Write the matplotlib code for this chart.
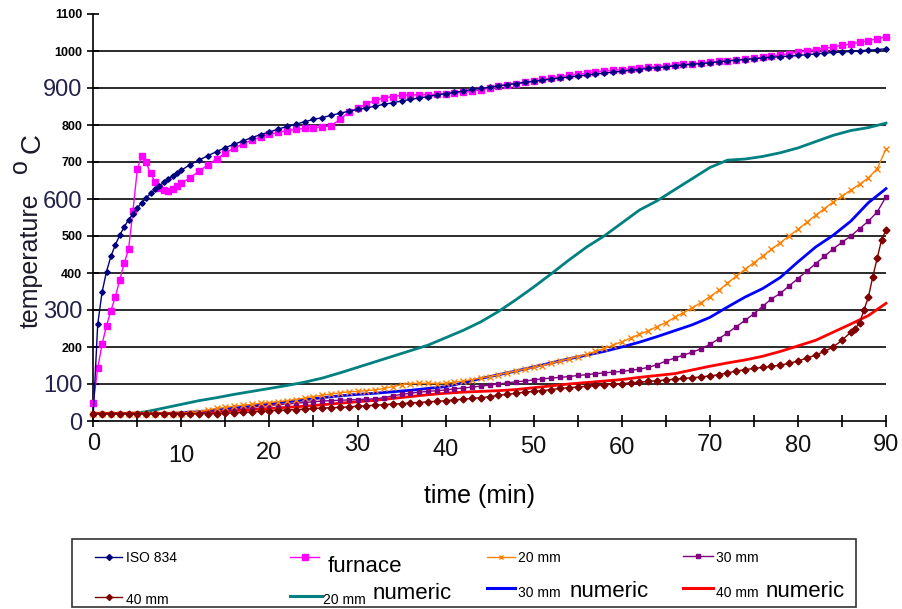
import numpy as np
import matplotlib
matplotlib.use("Agg")
import matplotlib.pyplot as plt
import matplotlib.transforms as mtransforms
from matplotlib.lines import Line2D
from matplotlib.patches import Rectangle

plt.rcParams['font.family'] = ['Liberation Sans', 'DejaVu Sans']

W, H = 902, 609

# ---- data (temperature in degC vs time in min) ----
t_half = list(np.arange(0, 10, 0.5)) + list(range(10, 91))
t_one = list(range(0, 91))
t_two = list(range(0, 91, 2))
t_40 = list(range(0, 87)) + [86.5, 87, 87.5, 88, 88.5, 89, 89.5, 90]

iso834 = [20, 261, 349, 404, 445, 476, 502, 524, 544, 560, 576, 590, 603, 615, 626, 636, 645, 654, 663, 671,
          678, 693, 705, 717, 728, 739, 748, 757, 766, 774, 781, 789, 796, 802, 809, 815, 820, 826, 832, 837,
          842, 846, 851, 856, 860, 865, 869, 873, 877, 881, 885, 888, 892, 896, 899, 902, 906, 909, 912, 915,
          918, 921, 924, 927, 930, 932, 935, 938, 940, 943, 945, 948, 950, 953, 955, 957, 960, 962, 964, 966,
          968, 971, 973, 975, 977, 979, 981, 983, 985, 986, 988, 990, 992, 994, 996, 997, 999, 1001, 1002, 1004,
          1006]

furnace = [49, 143, 208, 258, 298, 336, 381, 426, 464, 568, 681, 717, 699, 669, 647, 630, 624, 622, 626, 634,
           642, 658, 675, 692, 708, 725, 738, 749, 759, 767, 775, 780, 785, 788, 791, 793, 795, 798, 815, 835,
           845, 857, 867, 873, 877, 880, 881, 882, 882, 883, 884, 886, 888, 891, 895, 900, 905, 909, 912, 915,
           919, 923, 927, 931, 934, 937, 940, 943, 946, 948, 950, 952, 954, 956, 958, 960, 962, 964, 966, 968,
           970, 972, 974, 976, 978, 980, 983, 986, 989, 993, 997, 1000, 1004, 1007, 1011, 1015, 1019, 1023, 1028, 1033,
           1038]

mm20 = [20, 20, 20, 20, 20, 20, 20, 20, 20, 20, 20, 22, 25, 30, 34, 37, 40, 43, 45, 48,
        50, 52, 55, 58, 62, 66, 70, 73, 76, 79, 80, 82, 84, 88, 93, 98, 101, 102, 102, 101,
        102, 105, 108, 112, 116, 120, 125, 130, 135, 140, 145, 150, 156, 162, 168, 174, 180, 188, 196, 205,
        214, 224, 234, 244, 255, 266, 280, 293, 306, 320, 336, 353, 372, 392, 410, 428, 446, 464, 482, 500,
        518, 537, 556, 574, 592, 608, 624, 640, 657, 682, 735]

mm30 = [20, 20, 20, 20, 20, 20, 20, 20, 20, 20, 20, 21, 22, 24, 26, 28, 31, 34, 37, 40,
        42, 44, 46, 48, 50, 52, 54, 55, 56, 57, 58, 59, 60, 63, 68, 72, 75, 78, 80, 82,
        84, 87, 89, 92, 94, 97, 100, 103, 106, 108, 111, 114, 116, 118, 120, 123, 125, 128, 130, 132,
        134, 137, 140, 145, 152, 162, 170, 178, 186, 195, 207, 222, 238, 255, 272, 290, 310, 330, 345, 365,
        385, 405, 425, 445, 465, 483, 500, 520, 540, 565, 606]

mm40 = [20, 20, 20, 20, 20, 20, 20, 20, 20, 20, 20, 20, 20, 20, 20, 21, 22, 23, 25, 26,
        28, 29, 30, 31, 32, 34, 35, 36, 37, 38, 40, 41, 43, 44, 46, 47, 49, 50, 52, 53,
        55, 57, 59, 61, 63, 66, 69, 72, 75, 78, 80, 82, 85, 88, 90, 92, 94, 96, 98, 100,
        101, 103, 105, 107, 109, 111, 113, 115, 117, 119, 122, 125, 130, 135, 139, 142, 145, 148, 151, 156,
        162, 170, 178, 188, 200, 218, 240, 250, 265, 300, 335, 390, 440, 490, 516]

num20 = [20, 20, 20, 25, 35, 45, 55, 63, 72, 80, 88, 96, 105, 116, 130, 145, 160, 175, 190, 205,
         225, 245, 268, 296, 328, 362, 398, 435, 470, 500, 535, 570, 595, 625, 655, 685, 705, 708, 715, 725,
         738, 755, 772, 785, 793, 805]

num30 = [20, 20, 20, 20, 20, 22, 25, 30, 35, 40, 46, 52, 57, 63, 68, 72, 75, 79, 83, 88,
         93, 103, 115, 125, 135, 146, 157, 168, 178, 188, 200, 213, 228, 244, 260, 280, 308, 335, 358, 388,
         430, 470, 502, 540, 590, 628]

num40 = [20, 20, 20, 20, 20, 20, 22, 25, 28, 31, 34, 37, 40, 44, 48, 52, 56, 61, 66, 71,
         75, 78, 80, 82, 85, 90, 95, 100, 104, 108, 112, 118, 123, 128, 138, 148, 157, 165, 175, 188,
         203, 218, 240, 262, 285, 318]

yticks = list(range(0, 1101, 100))
big_yticks = [0, 100, 300, 600, 900]
grid_vals = list(range(100, 1001, 100))
xlabels = list(range(0, 91, 10))
xlabel_ypx = [444, 456, 453, 445, 450, 447, 448, 445, 446, 445]

# ---- figure ----
fig = plt.figure(figsize=(W / 100, H / 100), dpi=100)
ax = fig.add_axes([93.3 / W, 1 - 421 / H, (886 - 93.3) / W, (421 - 14) / H])

for g in grid_vals:
    ax.axhline(g, color='#1a1a1a', lw=1.3, zorder=1)

ax.plot(t_two, num20, color='#008080', lw=2, zorder=2, clip_on=False)
ax.plot(t_two, num30, color='#0000ff', lw=2, zorder=2, clip_on=False)
ax.plot(t_two, num40, color='#ff0000', lw=2, zorder=2, clip_on=False)
ax.plot(t_half, furnace, color='#ff00ff', lw=1, marker='s', ms=4.8, mec='#ff00ff', zorder=3, clip_on=False)
ax.plot(t_half, iso834, color='#000080', lw=1, marker='D', ms=2.8, mec='#000080', zorder=3.1, clip_on=False)
ax.plot(t_one, mm30, color='#800080', lw=1, marker='s', ms=2.5, mec='#800080', zorder=4, clip_on=False)
ax.plot(t_one, mm20, color='#ff8000', lw=1, marker='x', ms=4, mew=1, zorder=4, clip_on=False)
ax.plot(t_40, mm40, color='#800000', lw=1, marker='D', ms=3.5, mec='#800000', zorder=4.2, clip_on=False)

ax.set_xlim(0, 90)
ax.set_ylim(0, 1100)
for s in ['top', 'right']:
    ax.spines[s].set_visible(False)
for s in ['left', 'bottom']:
    ax.spines[s].set_color('black')
    ax.spines[s].set_linewidth(1.2)

ax.set_yticks(yticks)
ax.set_yticklabels([str(v) for v in yticks])
ax.tick_params(axis='y', direction='inout', length=8, width=1.2, pad=4)
for lab, v in zip(ax.get_yticklabels(), yticks):
    if v in big_yticks:
        lab.set_fontsize(17)
        lab.set_color('#22224a')
    else:
        lab.set_fontsize(9)
        lab.set_fontweight('bold')
        lab.set_color('black')

ax.set_xticks(list(range(0, 91, 5)))
ax.set_xticklabels([])
ax.tick_params(axis='x', direction='inout', length=8, width=1.2)

trans = mtransforms.blended_transform_factory(ax.transData, fig.transFigure)
for v, ypx in zip(xlabels, xlabel_ypx):
    ax.text(v, 1 - ypx / H, str(v), transform=trans, ha='center', va='center',
            fontsize=17, color='#111111')

# y axis title: "temperature" + raised "o" + "C"
fig.text(31 / W, 1 - 261 / H, 'temperature', rotation=90, ha='center', va='center',
         fontsize=18, color='#1a1a2a')
fig.text(20 / W, 1 - 166 / H, 'o', rotation=90, ha='center', va='center',
         fontsize=18, color='#1a1a2a')
fig.text(33 / W, 1 - 143 / H, 'C', rotation=90, ha='center', va='center',
         fontsize=20, color='#1a1a2a')
fig.text(480 / W, 1 - 496 / H, 'time (min)', ha='center', va='center', fontsize=18, color='black')

# ---- legend (drawn by hand, mixed text sizes) ----
def fx(x):
    return x / W

def fy(y):
    return 1 - y / H

fig.add_artist(Rectangle((fx(72), fy(607)), fx(856) - fx(72), fy(539) - fy(607), transform=fig.transFigure,
                         fill=False, ec='#333333', lw=1.2))

leg = [
    # (x0, x1, y, color, lw, marker, ms, small text, text x, baseline, big text, big x, big baseline)
    (95, 122, 557, '#000080', 1, 'D', 3, 'ISO 834', 126, 562, '', 0, 0),
    (290, 319, 557, '#ff00ff', 1, 's', 4, '', 0, 0, 'furnace', 328, 572),
    (487, 515, 557, '#ff8000', 1, 'x', 3.5, '20 mm', 518, 562, '', 0, 0),
    (683, 713, 556, '#800080', 1, 's', 2.5, '30 mm', 716, 562, '', 0, 0),
    (95, 122, 597, '#800000', 1, 'D', 3, '40 mm', 126, 604, '', 0, 0),
    (290, 322, 596, '#008080', 2.2, None, 0, '20 mm', 323, 604, 'numeric', 373, 599),
    (487, 515, 588, '#0000ff', 2.2, None, 0, '30 mm', 518, 597, 'numeric', 570, 597),
    (683, 713, 588, '#ff0000', 2.2, None, 0, '40 mm', 716, 597, 'numeric', 766, 597),
]
for x0, x1, y, c, lw, mk, ms, st, sx, sb, bt, bx, bb in leg:
    fig.add_artist(Line2D([fx(x0), fx(x1)], [fy(y), fy(y)], transform=fig.transFigure, color=c, lw=lw))
    if mk:
        fig.add_artist(Line2D([fx((x0 + x1) / 2)], [fy(y)], transform=fig.transFigure, color=c,
                              marker=mk, ms=ms, mec=c, lw=0))
    if st:
        fig.text(fx(sx), fy(sb), st, fontsize=10, ha='left', va='baseline', color='black')
    if bt:
        fig.text(fx(bx), fy(bb), bt, fontsize=16, ha='left', va='baseline', color='black')

fig.savefig('out.png', dpi=100)
